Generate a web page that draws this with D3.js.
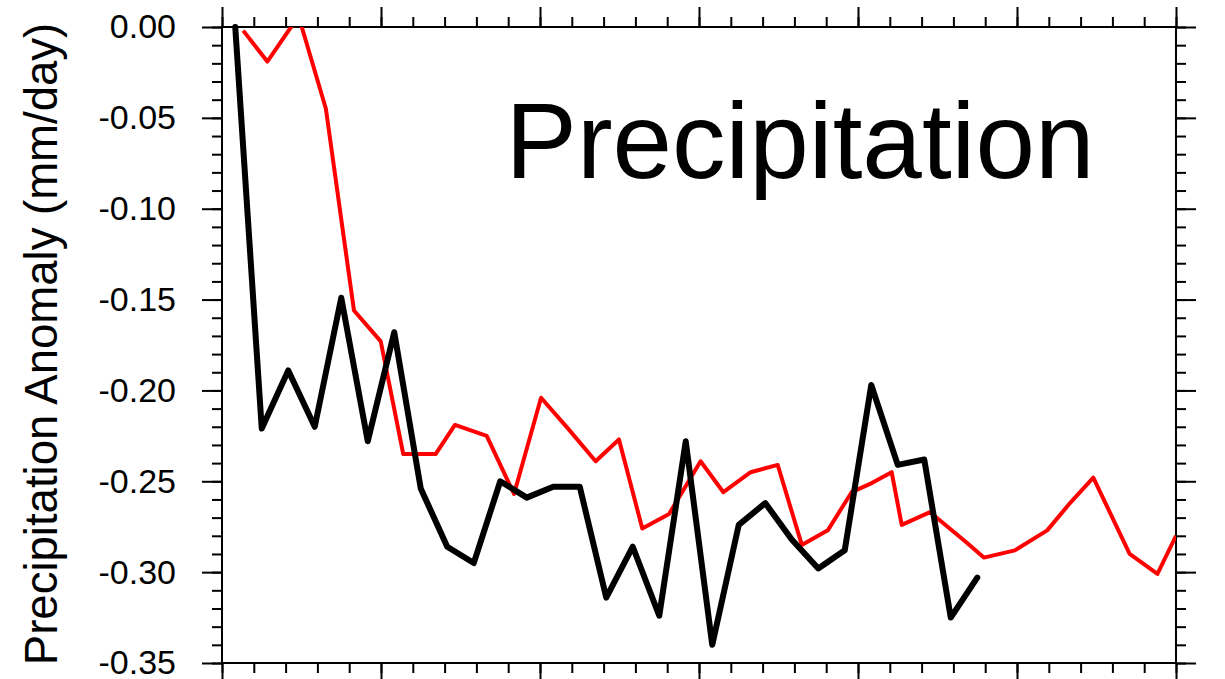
<!DOCTYPE html>
<html>
<head>
<meta charset="utf-8">
<script src="https://cdn.jsdelivr.net/npm/d3@7"></script>
<style>
  body { margin: 0; background: #fff; }
  text { font-family: "Liberation Sans", Arial, Helvetica, sans-serif; }
</style>
</head>
<body>
<script>

var Width = 1225;     // of SVG
var Height = 679;     // of SVG
var Left = 222, Right = 1176, Top = 27, Bottom = 663;   // plot frame

// black series: one value per step, at step centres 0.5, 1.5, ...
var blackValues = [0.000, -0.221, -0.189, -0.220, -0.149, -0.228, -0.168, -0.254, -0.286, -0.295,
                   -0.250, -0.259, -0.253, -0.253, -0.314, -0.286, -0.324, -0.228, -0.340, -0.274,
                   -0.262, -0.282, -0.298, -0.288, -0.197, -0.241, -0.238, -0.325, -0.303];

// red series: positions are not evenly spaced, so keep both
var redX = [0.80, 1.71, 2.89, 3.92, 4.98, 5.99, 6.84, 8.06, 8.79, 9.99,
            11.02, 12.04, 13.06, 14.10, 14.98, 15.86, 16.87, 18.06, 18.92, 19.95,
            20.97, 21.88, 22.86, 23.76, 24.52, 25.27, 25.65, 26.72, 28.04, 28.75,
            29.92, 31.14, 32.00, 32.88, 34.25, 35.30, 36.00];
var redValues = [-0.002, -0.019, 0.006, -0.045, -0.156, -0.173, -0.235, -0.235, -0.219, -0.225,
                 -0.257, -0.204, -0.221, -0.239, -0.227, -0.276, -0.268, -0.239, -0.256, -0.245,
                 -0.241, -0.285, -0.277, -0.256, -0.251, -0.245, -0.274, -0.267, -0.283, -0.292,
                 -0.288, -0.277, -0.262, -0.248, -0.290, -0.301, -0.280];

var yMajor = [0, -0.05, -0.10, -0.15, -0.20, -0.25, -0.30, -0.35];
var xMajor = [0, 6, 12, 18, 24, 30, 36];

var titleText = "Precipitation";
var yTitle = "Precipitation Anomaly (mm/day)";


function main () {

  var svg = d3.select("body")
    .append("svg")
    .attr("width", Width)
    .attr("height", Height);

  var xScale = d3.scaleLinear().domain([0, 36]).range([Left, Right]);
  var yScale = d3.scaleLinear().domain([-0.35, 0]).range([Bottom, Top]);

  makeAxes(svg, xScale, yScale);
  makeLines(svg, xScale, yScale);

  svg.append("text")
    .attr("x", 800)
    .attr("y", 178)
    .attr("text-anchor", "middle")
    .style("font-size", "107px")
    .text(titleText);

  svg.append("text")
    .attr("transform", "translate(57," + ((Top + Bottom) / 2 - 1) + ") rotate(-90)")
    .attr("text-anchor", "middle")
    .style("font-size", "45.5px")
    .text(yTitle);
}

function makeLines (svg, xScale, yScale) {

  svg.append("clipPath")
    .attr("id", "plotclip")
    .append("rect")
    .attr("x", Left).attr("y", Top)
    .attr("width", Right - Left).attr("height", Bottom - Top);

  var redLine = d3.line()
    .x(function(d, i) { return xScale(redX[i]); })
    .y(function(d) { return yScale(d); });

  svg.append("path")
    .datum(redValues)
    .attr("clip-path", "url(#plotclip)")
    .attr("fill", "none")
    .attr("stroke", "#ff0000")
    .attr("stroke-width", 4)
    .attr("stroke-linejoin", "round")
    .attr("d", redLine);

  var blackLine = d3.line()
    .x(function(d, i) { return xScale(i + 0.5); })
    .y(function(d) { return yScale(d); });

  svg.append("path")
    .datum(blackValues)
    .attr("fill", "none")
    .attr("stroke", "#000")
    .attr("stroke-width", 6)
    .attr("stroke-linejoin", "round")
    .attr("stroke-linecap", "round")
    .attr("d", blackLine);
}

function makeAxes (svg, xScale, yScale) {

  var xMinor = d3.range(0, 36.01, 1.2);
  var yMinor = d3.range(0, -0.3501, -0.01);

  var axes = [
    [d3.axisTop, xScale, "translate(0," + Top + ")", xMajor, xMinor, false],
    [d3.axisBottom, xScale, "translate(0," + Bottom + ")", xMajor, xMinor, false],
    [d3.axisLeft, yScale, "translate(" + Left + ",0)", yMajor, yMinor, true],
    [d3.axisRight, yScale, "translate(" + Right + ",0)", yMajor, yMinor, false]
  ];

  axes.forEach(function(a) {
    var minor = svg.append("g")
      .attr("transform", a[2])
      .call(a[0](a[1]).tickValues(a[4]).tickSize(10).tickSizeOuter(0).tickFormat(""));
    minor.select(".domain").remove();

    var major = svg.append("g")
      .attr("transform", a[2])
      .call(a[0](a[1]).tickValues(a[3]).tickSize(20).tickSizeOuter(0).tickPadding(26)
        .tickFormat(a[5] ? function(d) { return d.toFixed(2); } : ""));
    major.select(".domain").remove();
    major.selectAll("text")
      .style("font-size", "34px")
      .attr("fill", "#000")
      .style("font-family", "'Liberation Sans', Arial, sans-serif");
  });

  svg.selectAll(".tick line").attr("stroke", "#000").attr("stroke-width", 2);

  svg.append("rect")
    .attr("x", Left).attr("y", Top)
    .attr("width", Right - Left).attr("height", Bottom - Top)
    .attr("fill", "none")
    .attr("stroke", "#000")
    .attr("stroke-width", 2);
}

main();

</script>
</body>
</html>
